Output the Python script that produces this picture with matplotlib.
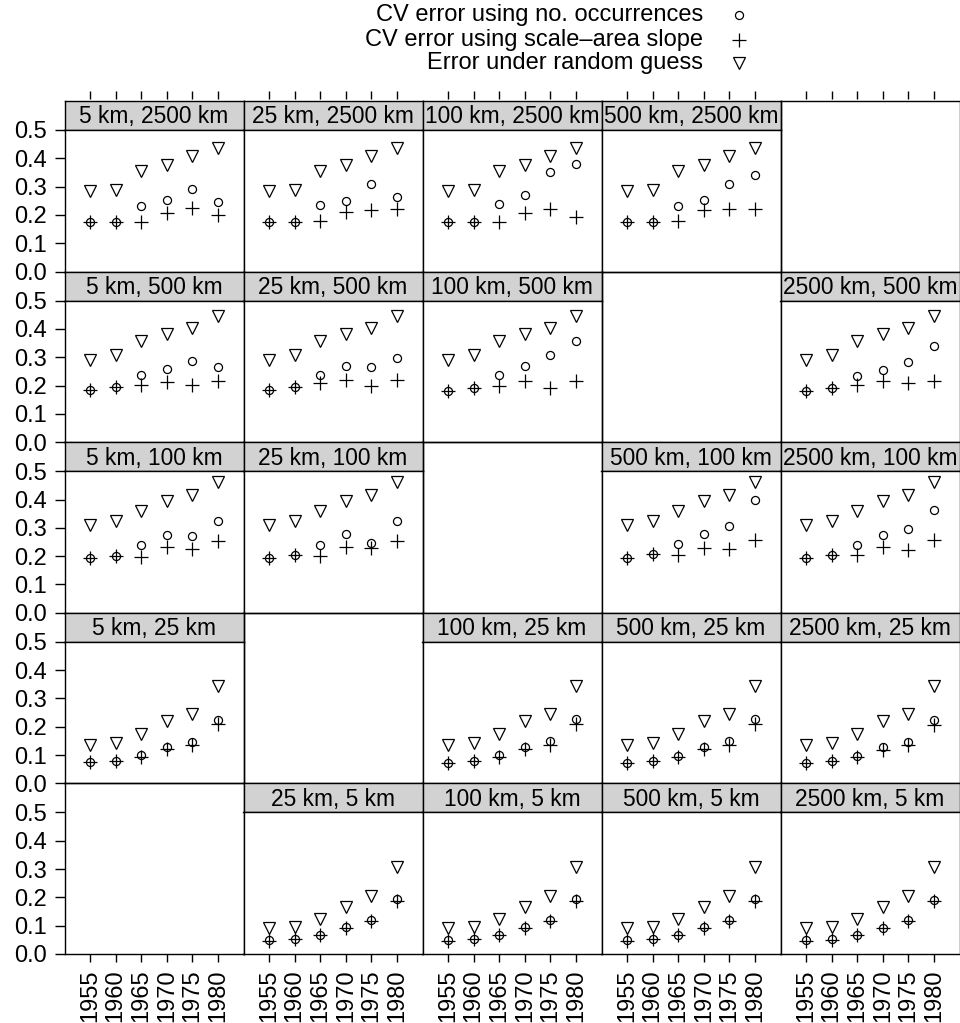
import matplotlib
matplotlib.use("Agg")
import matplotlib.pyplot as plt
from matplotlib.lines import Line2D

plt.rcParams['font.family'] = ['Liberation Sans', 'DejaVu Sans']

years = [1955, 1960, 1965, 1970, 1975, 1980]
col_scales = ["5 km", "25 km", "100 km", "500 km", "2500 km"]
row_scales = ["2500 km", "500 km", "100 km", "25 km", "5 km"]

# Error under random guess (depends on the second scale = row)
guess_2500 = [0.286, 0.288, 0.354, 0.378, 0.409, 0.437]
guess_500 = [0.292, 0.307, 0.357, 0.381, 0.404, 0.447]
guess_100 = [0.310, 0.323, 0.359, 0.395, 0.415, 0.462]
guess_25 = [0.135, 0.144, 0.174, 0.220, 0.245, 0.343]
guess_5 = [0.091, 0.094, 0.122, 0.167, 0.205, 0.308]

# CV error using no. occurrences / scale-area slope, one pair per panel
occ_5_2500 = [0.176, 0.176, 0.232, 0.253, 0.292, 0.247]
slope_5_2500 = [0.176, 0.176, 0.176, 0.208, 0.226, 0.200]
occ_25_2500 = [0.176, 0.176, 0.235, 0.250, 0.309, 0.262]
slope_25_2500 = [0.176, 0.176, 0.178, 0.212, 0.218, 0.222]
occ_100_2500 = [0.176, 0.176, 0.237, 0.272, 0.353, 0.381]
slope_100_2500 = [0.176, 0.176, 0.176, 0.208, 0.220, 0.194]
occ_500_2500 = [0.176, 0.176, 0.231, 0.253, 0.311, 0.340]
slope_500_2500 = [0.176, 0.176, 0.178, 0.216, 0.222, 0.220]

occ_5_500 = [0.183, 0.194, 0.237, 0.259, 0.287, 0.266]
slope_5_500 = [0.183, 0.194, 0.202, 0.214, 0.202, 0.217]
occ_25_500 = [0.183, 0.194, 0.237, 0.270, 0.266, 0.298]
slope_25_500 = [0.183, 0.194, 0.208, 0.220, 0.199, 0.220]
occ_100_500 = [0.182, 0.191, 0.236, 0.268, 0.309, 0.358]
slope_100_500 = [0.182, 0.191, 0.197, 0.215, 0.193, 0.217]
occ_2500_500 = [0.180, 0.191, 0.232, 0.256, 0.283, 0.338]
slope_2500_500 = [0.180, 0.191, 0.203, 0.215, 0.209, 0.215]

occ_5_100 = [0.193, 0.201, 0.238, 0.275, 0.270, 0.325]
slope_5_100 = [0.193, 0.201, 0.196, 0.234, 0.225, 0.254]
occ_25_100 = [0.192, 0.204, 0.240, 0.279, 0.246, 0.325]
slope_25_100 = [0.192, 0.204, 0.199, 0.234, 0.228, 0.255]
occ_500_100 = [0.195, 0.207, 0.242, 0.277, 0.305, 0.397]
slope_500_100 = [0.195, 0.207, 0.205, 0.230, 0.225, 0.256]
occ_2500_100 = [0.195, 0.203, 0.238, 0.273, 0.297, 0.364]
slope_2500_100 = [0.195, 0.203, 0.203, 0.232, 0.223, 0.256]

occ_5_25 = [0.074, 0.080, 0.099, 0.128, 0.146, 0.225]
slope_5_25 = [0.074, 0.079, 0.094, 0.122, 0.137, 0.210]
occ_100_25 = [0.073, 0.080, 0.099, 0.129, 0.148, 0.226]
slope_100_25 = [0.073, 0.080, 0.092, 0.120, 0.137, 0.208]
occ_500_25 = [0.073, 0.080, 0.098, 0.129, 0.148, 0.226]
slope_500_25 = [0.073, 0.080, 0.092, 0.120, 0.137, 0.208]
occ_2500_25 = [0.072, 0.079, 0.098, 0.128, 0.147, 0.225]
slope_2500_25 = [0.072, 0.079, 0.092, 0.119, 0.137, 0.207]

occ_25_5 = [0.049, 0.054, 0.067, 0.094, 0.120, 0.193]
slope_25_5 = [0.047, 0.052, 0.067, 0.093, 0.118, 0.188]
occ_100_5 = [0.049, 0.054, 0.067, 0.094, 0.120, 0.193]
slope_100_5 = [0.047, 0.052, 0.067, 0.093, 0.118, 0.188]
occ_500_5 = [0.049, 0.054, 0.067, 0.094, 0.120, 0.193]
slope_500_5 = [0.047, 0.052, 0.067, 0.093, 0.118, 0.188]
occ_2500_5 = [0.048, 0.053, 0.066, 0.093, 0.119, 0.192]
slope_2500_5 = [0.046, 0.051, 0.066, 0.092, 0.117, 0.187]

guess_rows = [guess_2500, guess_500, guess_100, guess_25, guess_5]
panels = {
    (0, 0): (occ_5_2500, slope_5_2500), (0, 1): (occ_25_2500, slope_25_2500),
    (0, 2): (occ_100_2500, slope_100_2500), (0, 3): (occ_500_2500, slope_500_2500),
    (1, 0): (occ_5_500, slope_5_500), (1, 1): (occ_25_500, slope_25_500),
    (1, 2): (occ_100_500, slope_100_500), (1, 4): (occ_2500_500, slope_2500_500),
    (2, 0): (occ_5_100, slope_5_100), (2, 1): (occ_25_100, slope_25_100),
    (2, 3): (occ_500_100, slope_500_100), (2, 4): (occ_2500_100, slope_2500_100),
    (3, 0): (occ_5_25, slope_5_25), (3, 2): (occ_100_25, slope_100_25),
    (3, 3): (occ_500_25, slope_500_25), (3, 4): (occ_2500_25, slope_2500_25),
    (4, 1): (occ_25_5, slope_25_5), (4, 2): (occ_100_5, slope_100_5),
    (4, 3): (occ_500_5, slope_500_5), (4, 4): (occ_2500_5, slope_2500_5),
}

W, H = 960, 1023
fig = plt.figure(figsize=(W / 100, H / 100), dpi=100)

X0, CW = 64.5, 179.0
TOP, RH, SH = 101.0, 170.6, 29.0
STRIP_COLOR = '#d2d2d2'
LW = 1.0
FS = 17
FS_STRIP = 16.4


def frac(x, y, w, h):
    return [x / W, 1 - (y + h) / H, w / W, h / H]


def style_ticks(ax, r, c):
    ax.set_xlim(1950, 1985)
    ax.set_ylim(0, 0.5)
    ax.set_xticks(years)
    ax.set_yticks([0.0, 0.1, 0.2, 0.3, 0.4, 0.5])
    ax.set_yticklabels(["0.0", "0.1", "0.2", "0.3", "0.4", "0.5"])
    ax.set_xticklabels([str(y) for y in years])
    ax.tick_params(axis='y', left=(c == 0), labelleft=(c == 0), right=False,
                   direction='out', length=7, width=LW, labelsize=FS, pad=6)
    ax.tick_params(axis='x', bottom=(r == 4), labelbottom=(r == 4),
                   top=False, labeltop=False, direction='out', length=6,
                   width=LW, labelsize=FS, labelrotation=90, pad=5)


for r in range(5):
    for c in range(5):
        left = X0 + CW * c
        cell_top = TOP + RH * r
        ptop = cell_top + SH
        ph = RH - SH
        if (r, c) in panels:
            sax = fig.add_axes(frac(left, cell_top, CW, SH))
            sax.set_facecolor(STRIP_COLOR)
            sax.set_xticks([])
            sax.set_yticks([])
            for s in sax.spines.values():
                s.set_linewidth(LW)
            sax.text(0.5, 0.45, f"{col_scales[c]}, {row_scales[r]}",
                     ha='center', va='center', fontsize=FS_STRIP,
                     transform=sax.transAxes)
            ax = fig.add_axes(frac(left, ptop, CW, ph))
            for s in ax.spines.values():
                s.set_linewidth(LW)
            style_ticks(ax, r, c)
            occ, slope = panels[(r, c)]
            ax.plot(years, guess_rows[r], linestyle='none', marker='v', ms=8.5,
                    mfc='none', mec='black', mew=0.9)
            ax.plot(years, occ, linestyle='none', marker='o', ms=5.8,
                    mfc='none', mec='black', mew=0.9)
            ax.plot(years, slope, linestyle='none', marker='+', ms=9.5,
                    mec='black', mew=0.9)
        else:
            eax = fig.add_axes(frac(left, cell_top, CW, RH))
            eax.set_xticks([])
            eax.set_yticks([])
            eax.patch.set_alpha(0)
            for s in eax.spines.values():
                s.set_linewidth(LW)
            ax = fig.add_axes(frac(left, ptop, CW, ph))
            ax.patch.set_alpha(0)
            for s in ax.spines.values():
                s.set_visible(False)
            style_ticks(ax, r, c)
        if r == 0:
            tax = fig.add_axes(frac(left, cell_top - 2, CW, ph))
            tax.patch.set_alpha(0)
            tax.set_xlim(1950, 1985)
            for s in tax.spines.values():
                s.set_visible(False)
            tax.set_yticks([])
            tax.set_xticks(years)
            tax.tick_params(axis='x', bottom=False, labelbottom=False, top=True,
                            labeltop=False, direction='out', length=6, width=LW, pad=2)

legend_items = [
    ("CV error using no. occurrences", 'o', 5.8, 15),
    ("CV error using scale\u2013area slope", '+', 9.5, 40),
    ("Error under random guess", 'v', 8.0, 63),
]
for label, mk, ms, yy in legend_items:
    fig.text(703 / W, 1 - yy / H, label, ha='right', va='center', fontsize=FS)
    fig.add_artist(Line2D([739 / W], [1 - yy / H], transform=fig.transFigure,
                          marker=mk, ms=ms, mfc='none', mec='black', mew=0.9,
                          linestyle='none'))

fig.savefig("out.png", dpi=100)
